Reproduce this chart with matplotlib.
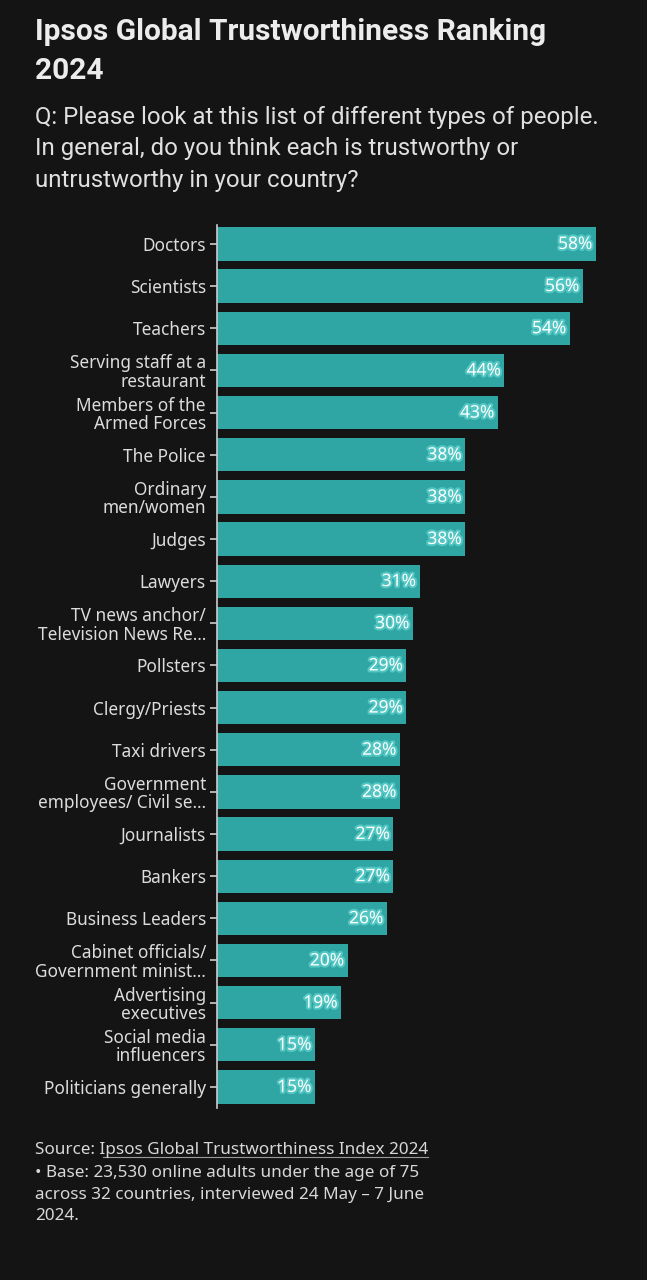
import matplotlib
matplotlib.use("Agg")
import matplotlib.pyplot as plt
import matplotlib.patheffects as pe

categories = [
    "Doctors", "Scientists", "Teachers", "Serving staff at a\nrestaurant",
    "Members of the\nArmed Forces", "The Police", "Ordinary\nmen/women", "Judges",
    "Lawyers", "TV news anchor/\nTelevision News Re…", "Pollsters", "Clergy/Priests",
    "Taxi drivers", "Government\nemployees/ Civil se…", "Journalists", "Bankers",
    "Business Leaders", "Cabinet officials/\nGovernment minist…", "Advertising\nexecutives",
    "Social media\ninfluencers", "Politicians generally",
]
values = [58, 56, 54, 44, 43, 38, 38, 38, 31, 30, 29, 29, 28, 28, 27, 27, 26, 20, 19, 15, 15]

BG = "#141414"
BAR = "#2fa5a4"
TXT = "#dcdcdc"
W, H = 647, 1280

fig = plt.figure(figsize=(W / 100, H / 100), dpi=100, facecolor=BG)
ax = fig.add_axes([217 / W, 1 - 1108 / H, (622 - 217) / W, (1108 - 225) / H])
ax.set_facecolor(BG)

ypos = list(range(len(categories)))
ax.barh(ypos, values, height=0.79, color=BAR, edgecolor="none")
ax.set_ylim(len(categories) - 0.5, -0.45)
ax.set_xlim(0, 62)
ax.set_yticks(ypos)
ax.set_yticklabels(categories, fontsize=12.4, color=TXT, family="Noto Sans", linespacing=1.02)
ax.tick_params(axis="y", length=5, width=1.2, color="#cccccc", pad=3)
ax.set_xticks([])
for s in ["top", "right", "bottom"]:
    ax.spines[s].set_visible(False)
ax.spines["left"].set_color("#cccccc")
ax.spines["left"].set_linewidth(1.2)

for y, v in zip(ypos, values):
    ax.text(v - 0.5, y, f"{v}%", ha="right", va="center", color="white",
            fontsize=12.5, fontweight="bold", family="Noto Sans",
            path_effects=[pe.withStroke(linewidth=3, foreground="#52c6c2")])

fig.text(35 / W, 1 - 18 / H, "Ipsos Global Trustworthiness Ranking\n2024",
         ha="left", va="top", color="#ececec", fontsize=21.5, fontweight="bold",
         family="Roboto", linespacing=1.5)

fig.text(35 / W, 1 - 106 / H,
         "Q: Please look at this list of different types of people.\nIn general, do you think each is trustworthy or\nuntrustworthy in your country?",
         ha="left", va="top", color="#e0e0e0", fontsize=17.3, family="Roboto",
         linespacing=1.46)

FS = 12.3
pre = fig.text(35 / W, 1 - 1142 / H, "Source: ", ha="left", va="top", color="#d8d8d8",
               fontsize=FS, family="Noto Sans")
src = fig.text(35 / W, 1 - 1142 / H, "Source: Ipsos Global Trustworthiness Index 2024", ha="left",
               va="top", color="#d8d8d8", fontsize=FS, family="Noto Sans")
fig.text(35 / W, 1 - 1165 / H,
         "• Base: 23,530 online adults under the age of 75\nacross 32 countries, interviewed 24 May – 7 June\n2024.",
         ha="left", va="top", color="#d8d8d8", fontsize=FS, family="Noto Sans",
         linespacing=1.47)
fig.canvas.draw()
r = fig.canvas.get_renderer()
bb_src = src.get_window_extent(r)
bb_pre = pre.get_window_extent(r)
pre.set_visible(False)
fig.add_artist(plt.Line2D([(bb_pre.x1 + 3) / W, bb_src.x1 / W],
                          [(bb_src.y0 + 1) / H] * 2, transform=fig.transFigure,
                          color="#9a9a9a", lw=0.8))

fig.savefig("out.png", dpi=100, facecolor=BG)
